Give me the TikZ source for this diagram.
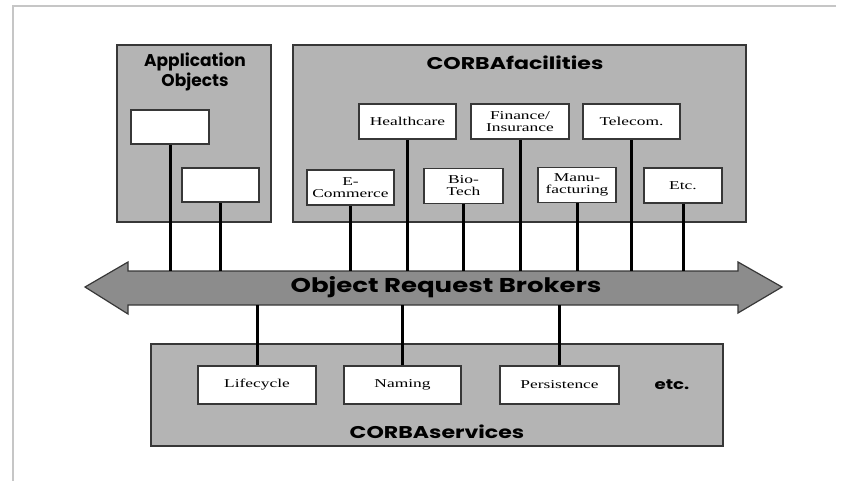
\documentclass[tikz,border=0pt]{standalone}
\usepackage{fontspec}
\newfontfamily\titlefont[FakeStretch=1.3]{Poppins}
\newfontfamily\plaintitlefont{Poppins}
\newfontfamily\labelfont[FakeStretch=1.45]{Liberation Serif}
\definecolor{panelgray}{RGB}{180,180,180}
\definecolor{orbgray}{RGB}{140,140,140}
\definecolor{edgegray}{RGB}{55,55,55}
\begin{document}
\begin{tikzpicture}[x=1pt,y=-1pt,
    panel/.style={draw=edgegray,line width=1.5pt,fill=panelgray},
    modbox/.style={draw=edgegray,line width=1.5pt,fill=white,minimum height=35pt,
        inner sep=1pt,align=center,font=\labelfont\fontsize{12}{12}\selectfont},
    title/.style={align=center,font=\titlefont\bfseries\fontsize{17}{17}\selectfont},
    link/.style={line width=3pt,black}]
        \useasboundingbox (0,0) rectangle (846,483);
        \draw[gray!45,line width=1.5pt] (836,6) -- (13,6) -- (13,481);

        % the three panels
        \draw[panel] (117,45) rectangle (271,222);
        \draw[panel] (293,45) rectangle (746,222);
        \draw[panel] (151,344) rectangle (723,446);

        \node[align=center,font=\plaintitlefont\bfseries\fontsize{17}{16}\selectfont] (apptitle) at (195,72) {Application\\Objects};
        \node[title] (factitle) at (515,63) {CORBAfacilities};
        \node[title] (svctitle) at (437,432) {CORBAservices};
        \node[font=\titlefont\bfseries\fontsize{14}{14}\selectfont] (more) at (672,385) {etc.};

        % the bus
        \draw[draw=edgegray,line width=1.2pt,fill=orbgray]
            (85,287) -- (128,262) -- (128,271) -- (738,271) -- (738,262) -- (782,287)
            -- (738,313) -- (738,305) -- (128,305) -- (128,314) -- cycle;
        \node[font=\titlefont\bfseries\fontsize{20}{20}\selectfont] (orb) at (446,287) {Object Request Brokers};
        \coordinate (orbtop) at (0,271);
        \coordinate (orbbot) at (0,305);

        % objects above the bus
        \node[modbox,minimum width=78pt,minimum height=34pt] (app1) at (170,127) {};
        \node[modbox,minimum width=77pt,minimum height=34pt] (app2) at (220.5,185) {};

        \node[modbox,minimum width=97pt] (health) at (407.5,121.5) {Healthcare};
        \node[modbox,minimum width=98pt] (finance) at (520,121.5) {Finance/\\Insurance};
        \node[modbox,minimum width=97pt] (telecom) at (631.5,121.5) {Telecom.};

        \node[modbox,minimum width=87pt] (ecom) at (350.5,187.5) {E-\\Commerce};
        \node[modbox,minimum width=79pt] (biotech) at (463.5,186) {Bio-\\Tech};
        \node[modbox,minimum width=78pt] (manuf) at (577,185) {Manu-\\facturing};
        \node[modbox,minimum width=78pt] (etcbox) at (683,185.5) {Etc.};

        % services below the bus
        \node[modbox,minimum width=118pt,minimum height=38pt] (life) at (257,385) {Lifecycle};
        \node[modbox,minimum width=117pt,minimum height=38pt] (naming) at (402.5,385) {Naming};
        \node[modbox,minimum width=119pt,minimum height=38pt] (persist) at (559.5,385) {Persistence};

        \foreach \b in {app1,app2,ecom,health,biotech,finance,manuf,telecom,etcbox}
            \draw[link] (\b.south) -- (\b.south |- orbtop);
        \foreach \b in {life,naming,persist}
            \draw[link] (\b.north) -- (\b.north |- orbbot);
    \end{tikzpicture}
\end{document}
